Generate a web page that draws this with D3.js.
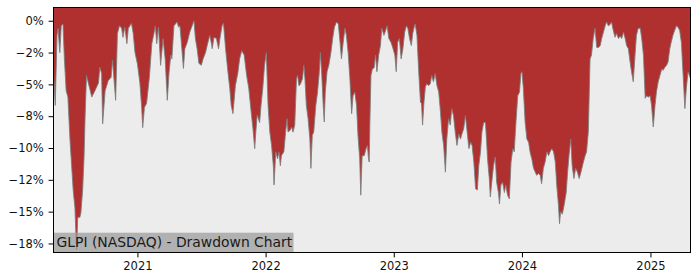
<!DOCTYPE html>
<html>
<head>
<meta charset="utf-8">
<script src="https://cdn.jsdelivr.net/npm/d3@7"></script>
<style>
  html, body { margin: 0; padding: 0; background: #fff; }
  svg { display: block; font-family: "DejaVu Sans", sans-serif; }
</style>
</head>
<body>
<svg></svg>
<script>
// drawdown readings (percent below running peak)
const dates = [
  // 2020
  "2020-05-07","2020-05-12","2020-05-17","2020-05-20","2020-05-25","2020-05-29","2020-06-03","2020-06-07","2020-06-12","2020-06-17",
  "2020-06-23","2020-07-02","2020-07-07","2020-07-10","2020-07-12","2020-07-15","2020-07-21","2020-07-24","2020-07-29","2020-08-02",
  "2020-08-05","2020-08-09","2020-08-17","2020-08-24","2020-09-02","2020-09-12","2020-09-16","2020-09-21","2020-09-24","2020-10-01",
  "2020-10-10","2020-10-18","2020-10-22","2020-10-31","2020-11-05","2020-11-11","2020-11-17","2020-11-21","2020-11-26","2020-12-02",
  "2020-12-06","2020-12-15","2020-12-20","2020-12-25",
  // 2021
  "2021-01-01","2021-01-08","2021-01-13","2021-01-16","2021-01-21","2021-01-27","2021-02-04","2021-02-11","2021-02-17","2021-02-21",
  "2021-02-25","2021-03-02","2021-03-08","2021-03-15","2021-03-21","2021-03-27","2021-04-01","2021-04-06","2021-04-09","2021-04-15",
  "2021-04-24","2021-04-28","2021-05-02","2021-05-06","2021-05-12","2021-05-16","2021-05-23","2021-05-30","2021-06-11","2021-06-15",
  "2021-06-20","2021-06-25","2021-07-02","2021-07-07","2021-07-14","2021-07-19","2021-07-26","2021-07-30","2021-08-02","2021-08-07",
  "2021-08-14","2021-08-20","2021-08-24","2021-08-30","2021-09-03","2021-09-09","2021-09-16","2021-09-21","2021-09-25","2021-09-30",
  "2021-10-07","2021-10-14","2021-10-19","2021-10-25","2021-11-01","2021-11-08","2021-11-14","2021-11-21","2021-11-26","2021-12-01",
  "2021-12-04","2021-12-08","2021-12-15","2021-12-19","2021-12-24","2021-12-29",
  // 2022
  "2022-01-03","2022-01-08","2022-01-13","2022-01-18","2022-01-23","2022-01-25","2022-01-30","2022-02-04","2022-02-08","2022-02-12",
  "2022-02-15","2022-02-22","2022-02-27","2022-03-03","2022-03-06","2022-03-12","2022-03-16","2022-03-20","2022-03-25","2022-03-30",
  "2022-04-02","2022-04-06","2022-04-10","2022-04-16","2022-04-20","2022-04-23","2022-04-27","2022-05-02","2022-05-07","2022-05-10",
  "2022-05-14","2022-05-18","2022-05-24","2022-05-29","2022-06-03","2022-06-06","2022-06-10","2022-06-14","2022-06-17","2022-06-20",
  "2022-06-25","2022-06-30","2022-07-06","2022-07-11","2022-07-16","2022-07-22","2022-07-27","2022-08-01","2022-08-05","2022-08-10",
  "2022-08-15","2022-08-19","2022-08-24","2022-08-29","2022-09-03","2022-09-07","2022-09-12","2022-09-17","2022-09-21","2022-09-26",
  "2022-09-29","2022-10-03","2022-10-09","2022-10-14","2022-10-18","2022-10-21","2022-10-23","2022-10-25","2022-10-28","2022-11-01",
  "2022-11-06","2022-11-10","2022-11-14","2022-11-19","2022-11-24","2022-11-28","2022-12-04","2022-12-09","2022-12-13","2022-12-18",
  "2022-12-24","2022-12-30",
  // 2023
  "2023-01-04","2023-01-08","2023-01-12","2023-01-17","2023-01-22","2023-01-27","2023-02-01","2023-02-06","2023-02-10","2023-02-15",
  "2023-02-20","2023-02-24","2023-03-01","2023-03-03","2023-03-08","2023-03-13","2023-03-18","2023-03-21","2023-03-24","2023-03-28",
  "2023-04-01","2023-04-05","2023-04-10","2023-04-15","2023-04-19","2023-04-24","2023-04-29","2023-05-04","2023-05-09","2023-05-14",
  "2023-05-18","2023-05-23","2023-05-28","2023-06-01","2023-06-06","2023-06-11","2023-06-15","2023-06-20","2023-06-25","2023-06-30",
  "2023-07-05","2023-07-10","2023-07-14","2023-07-19","2023-07-24","2023-07-29","2023-08-03","2023-08-08","2023-08-12","2023-08-17",
  "2023-08-22","2023-08-27","2023-08-31","2023-09-05","2023-09-09","2023-09-14","2023-09-19","2023-09-22","2023-09-25","2023-09-30",
  "2023-10-03","2023-10-07","2023-10-12","2023-10-17","2023-10-21","2023-10-26","2023-10-29","2023-11-02","2023-11-07","2023-11-12",
  "2023-11-16","2023-11-21","2023-11-26","2023-12-01","2023-12-06","2023-12-10","2023-12-15","2023-12-20","2023-12-25","2023-12-29",
  // 2024
  "2024-01-01","2024-01-05","2024-01-10","2024-01-15","2024-01-20","2024-01-24","2024-01-29","2024-02-03","2024-02-08","2024-02-12",
  "2024-02-17","2024-02-22","2024-02-26","2024-03-02","2024-03-07","2024-03-12","2024-03-17","2024-03-21","2024-03-26","2024-03-31",
  "2024-04-05","2024-04-09","2024-04-14","2024-04-17","2024-04-20","2024-04-25","2024-04-30","2024-05-06","2024-05-10","2024-05-14",
  "2024-05-19","2024-05-23","2024-05-28","2024-06-02","2024-06-07","2024-06-12","2024-06-17","2024-06-24","2024-06-29","2024-07-03",
  "2024-07-08","2024-07-13","2024-07-17","2024-07-22","2024-07-27","2024-08-01","2024-08-06","2024-08-11","2024-08-15","2024-08-20",
  "2024-08-25","2024-08-29","2024-09-03","2024-09-08","2024-09-12","2024-09-17","2024-09-22","2024-09-26","2024-10-02","2024-10-07",
  "2024-10-11","2024-10-16","2024-10-21","2024-10-25","2024-10-30","2024-11-04","2024-11-08","2024-11-13","2024-11-18","2024-11-22",
  "2024-11-27","2024-12-03","2024-12-07","2024-12-12","2024-12-17","2024-12-21","2024-12-26","2024-12-31",
  // 2025
  "2025-01-04","2025-01-09","2025-01-14","2025-01-18","2025-01-23","2025-01-28","2025-02-02","2025-02-06","2025-02-11","2025-02-16",
  "2025-02-20","2025-02-25","2025-03-01","2025-03-06","2025-03-11","2025-03-16","2025-03-20","2025-03-25","2025-03-30","2025-04-04",
  "2025-04-09","2025-04-13","2025-04-18","2025-04-25"
];

const drawdown = [
  // 2020
  -4.0,-6.65,-1.15,-0.6,-2.5,-0.4,-0.25,-3.0,-5.5,-6.0,
  -9.4,-13.3,-14.7,-17.0,-18.0,-15.45,-15.45,-15.1,-13.3,-10.7,
  -7.5,-4.3,-5.2,-6.0,-5.5,-4.9,-3.65,-4.15,-8.1,-5.5,
  -4.7,-4.45,-3.1,-6.25,-1.0,-0.4,-0.6,-1.3,-0.5,-1.8,
  -0.6,-0.2,-1.0,-2.5,
  // 2021
  -3.4,-4.9,-6.8,-8.4,-6.8,-6.5,-4.45,-1.8,-1.0,-0.4,
  -1.8,-0.5,-3.5,-1.4,-3.0,-6.25,-4.1,-2.7,-3.0,-0.4,
  -0.1,-0.5,-0.4,-1.7,-3.75,-2.2,-1.7,-0.9,0,-1.4,
  -2.2,-3.35,-3.5,-3.0,-2.5,-1.9,-1.15,-1.7,-2.2,-1.3,
  -1.4,-2.2,-1.4,-0.4,-0.2,-2.2,-4.1,-5.3,-6.65,-7.3,
  -5.1,-4.1,-3.0,-2.35,-2.7,-4.3,-5.3,-7.2,-8.5,-10.05,
  -8.8,-7.4,-8.0,-6.65,-5.3,-3.5,
  // 2022
  -2.5,-6.65,-8.75,-9.8,-11.4,-12.9,-10.3,-10.85,-10.3,-11.4,
  -10.6,-10.3,-8.75,-7.7,-8.75,-8.6,-8.35,-8.75,-8.2,-4.55,
  -4.3,-5.1,-5.0,-4.55,-3.5,-4.55,-6.65,-7.7,-9.3,-11.6,
  -9.0,-8.75,-6.65,-5.6,-4.0,-2.5,-4.3,-6.65,-7.95,-5.6,
  -4.0,-3.5,-2.5,-1.4,-0.5,-0.1,-0.25,-1.7,-3.0,-1.7,
  -0.6,-1.15,-2.5,-4.55,-7.3,-5.9,-5.6,-6.65,-9.0,-10.85,
  -13.7,-10.6,-10.6,-10.05,-9.8,-10.85,-11.1,-8.0,-4.3,-3.8,
  -3.7,-2.7,-4.0,-2.7,-1.95,-0.6,-1.15,-0.75,-0.4,-1.4,
  -1.7,-2.2,
  // 2023
  -2.7,-4.0,-1.7,-1.4,-3.0,-2.2,-0.9,-0.4,-0.6,-1.4,
  -1.95,-1.0,-0.4,-0.25,-1.15,-4.0,-6.4,-6.5,-8.2,-6.4,
  -5.2,-4.95,-5.1,-4.95,-4.3,-4.8,-4.15,-5.1,-5.6,-7.2,
  -8.75,-9.8,-11.9,-9.3,-7.7,-8.2,-6.9,-7.45,-8.75,-9.8,
  -8.9,-9.3,-8.9,-8.5,-7.45,-8.75,-10.05,-9.55,-9.8,-11.1,
  -13.2,-13.3,-11.4,-10.3,-8.75,-8.0,-8.0,-9.3,-10.85,-12.4,
  -13.85,-12.7,-11.4,-10.7,-12.7,-13.5,-14.4,-12.9,-12.7,-13.5,
  -12.9,-13.7,-14.0,-11.1,-10.05,-10.3,-7.95,-5.9,-5.6,-4.15,
  // 2024
  -4.0,-5.35,-7.95,-9.3,-9.55,-10.3,-10.85,-11.6,-11.9,-12.15,
  -12.0,-12.15,-12.8,-11.6,-11.1,-10.3,-10.6,-10.3,-10.05,-10.3,
  -11.1,-12.9,-14.5,-15.95,-15.0,-15.2,-14.5,-13.5,-11.9,-10.6,
  -9.3,-11.4,-12.4,-11.6,-11.9,-12.4,-11.9,-11.1,-10.6,-10.3,
  -8.75,-3.0,-2.7,-1.4,-0.6,-2.1,-2.1,-1.95,-1.4,-0.9,
  -0.4,-0.1,-0.4,-0.3,-0.1,-0.75,-1.3,-1.0,-1.4,-1.2,
  -1.4,-0.9,-1.4,-1.95,-2.2,-3.25,-4.0,-4.8,-2.7,-1.15,
  -0.6,-0.6,-1.4,-2.7,-6.1,-5.9,-6.0,-5.9,
  // 2025
  -6.65,-8.35,-6.65,-5.6,-4.8,-4.3,-3.8,-3.9,-3.65,-3.5,
  -3.25,-2.2,-1.7,-1.15,-0.75,-0.4,-0.5,-0.75,-1.7,-4.3,
  -6.9,-5.35,-4.0,-4.55
];

const yTickValues = [0, -2.5, -5, -7.5, -10, -12.5, -15, -17.5];
const yTickLabels = ["0%", "\u22122%", "\u22125%", "\u22128%", "\u221210%", "\u221212%", "\u221215%", "\u221218%"];
const xTickYears = ["2021", "2022", "2023", "2024", "2025"];
const chartTitle = "GLPI (NASDAQ) - Drawdown Chart";

const constants = {
  width: 700,
  height: 280,
  plot: { left: 53.5, right: 690.5, top: 7.5, bottom: 252.5 },
  yDomain: [-18.21, 1.04],
  colors: { bg: "#ececec", fill: "#b03030", line: "#7d7d7d", label: "#999999" },
  tickSize: 4.9,
  tickFont: 11.5,
  titleFont: 13.9
};

if (dates.length !== drawdown.length) console.log("length mismatch", dates.length, drawdown.length);

const parse = d3.timeParse("%Y-%m-%d");
const rows = dates.map((d, i) => ({ date: parse(d), value: drawdown[i] }));

const { width, height, plot } = constants;
const svg = d3.select("svg").attr("width", width).attr("height", height);

const x = d3.scaleTime()
  .domain(d3.extent(rows, (d) => d.date))
  .range([plot.left, plot.right]);

const y = d3.scaleLinear()
  .domain(constants.yDomain)
  .range([plot.bottom, plot.top]);

// axes background
svg.append("rect")
  .attr("x", plot.left)
  .attr("y", plot.top)
  .attr("width", plot.right - plot.left)
  .attr("height", plot.bottom - plot.top)
  .attr("fill", constants.colors.bg);

// red band between the top of the axes and the drawdown curve
svg.append("path")
  .datum(rows)
  .attr("fill", constants.colors.fill)
  .attr("d", d3.area()
    .x((d) => x(d.date))
    .y0(y(constants.yDomain[1]))
    .y1((d) => y(d.value)));

svg.append("path")
  .datum(rows)
  .attr("fill", "none")
  .attr("stroke", constants.colors.line)
  .attr("stroke-width", 1)
  .attr("stroke-opacity", 0.85)
  .attr("d", d3.line()
    .x((d) => x(d.date))
    .y((d) => y(d.value)));

// title box in the lower left corner
svg.append("rect")
  .attr("x", plot.left)
  .attr("y", 232.7)
  .attr("width", 240)
  .attr("height", plot.bottom - 232.7)
  .attr("fill", constants.colors.label)
  .attr("fill-opacity", 0.7);

svg.append("text")
  .attr("x", 56.5)
  .attr("y", 247.4)
  .attr("font-size", `${constants.titleFont}px`)
  .attr("fill", "#1a1a1a")
  .text(chartTitle);

const yAxis = svg.append("g")
  .attr("transform", `translate(${plot.left}, 0)`)
  .call(d3.axisLeft(y)
    .tickValues(yTickValues)
    .tickFormat((d, i) => yTickLabels[i])
    .tickSize(constants.tickSize)
    .tickPadding(4.9));

const xAxis = svg.append("g")
  .attr("transform", `translate(0, ${plot.bottom})`)
  .call(d3.axisBottom(x)
    .tickValues(xTickYears.map((yr) => new Date(+yr, 0, 1)))
    .tickFormat((d, i) => xTickYears[i])
    .tickSize(constants.tickSize)
    .tickPadding(4.2));

[yAxis, xAxis].forEach((g) => {
  g.select(".domain").remove();
  g.selectAll("text")
    .attr("font-family", "DejaVu Sans, sans-serif")
    .attr("font-size", `${constants.tickFont}px`)
    .attr("fill", "#111");
  g.selectAll("line").attr("stroke", "#000").attr("stroke-width", 1);
});

// frame
svg.append("rect")
  .attr("x", plot.left)
  .attr("y", plot.top)
  .attr("width", plot.right - plot.left)
  .attr("height", plot.bottom - plot.top)
  .attr("fill", "none")
  .attr("stroke", "#000")
  .attr("stroke-width", 1)
  .attr("shape-rendering", "crispEdges");
</script>
</body>
</html>
